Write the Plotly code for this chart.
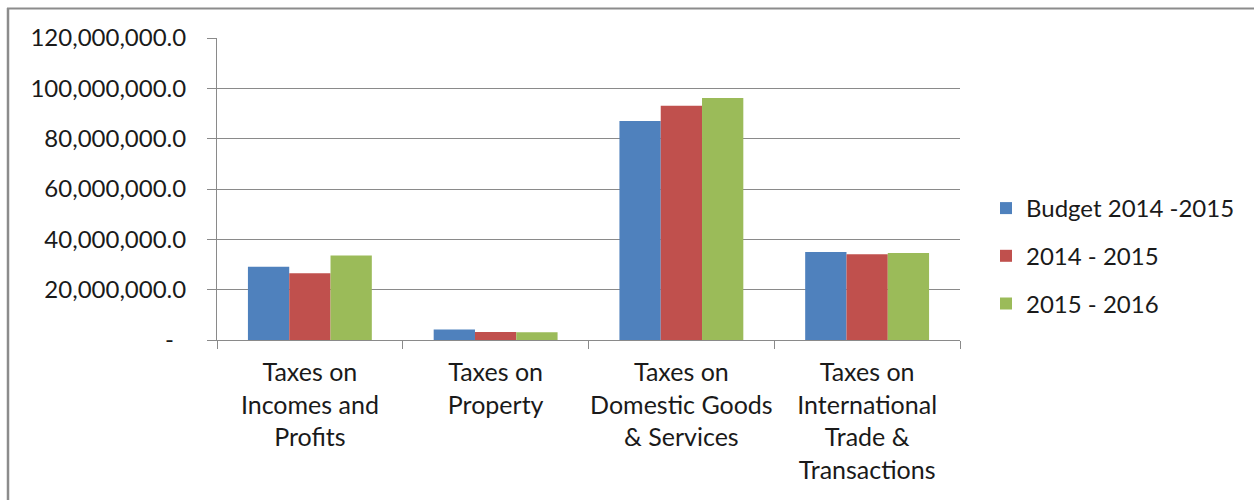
import plotly.graph_objects as go

# Tax revenue by category (Rs.)
categories = [
    "Taxes on<br>Incomes and<br>Profits",
    "Taxes on<br>Property",
    "Taxes on<br>Domestic Goods<br>& Services",
    "Taxes on<br>International<br>Trade &<br>Transactions",
]
budget_2014_15 = [29_100_000, 4_200_000, 87_000_000, 35_000_000]
actual_2014_15 = [26_500_000, 3_200_000, 93_100_000, 34_100_000]
actual_2015_16 = [33_600_000, 3_100_000, 96_200_000, 34_600_000]

series_names = ["Budget 2014 -2015", "2014 - 2015", "2015 - 2016"]
series_values = [budget_2014_15, actual_2014_15, actual_2015_16]
series_colors = ["#4F81BD", "#C0504D", "#9BBB59"]

y_tickvals = [0, 20_000_000, 40_000_000, 60_000_000, 80_000_000, 100_000_000, 120_000_000]
y_ticktext = ["-\u00a0\u00a0"] + [f"{v:,.1f}" for v in y_tickvals[1:]]

W, H = 1254, 500
ML, MR, MT, MB = 217, 294, 38, 160
plot_w = W - ML - MR
plot_h = H - MT - MB

FONT = "Lato, 'Open Sans', sans-serif"
TEXT = "#1a1a1a"
GRID = "#8a8a8a"

fig = go.Figure()
for name, vals, color in zip(series_names, series_values, series_colors):
    fig.add_trace(go.Bar(
        x=categories,
        y=vals,
        name=name,
        legendgroup=name,
        marker=dict(color=color, line=dict(width=0)),
    ))

# outer frame of the chart area (left and top edges)
def px_to_paper_x(px):
    return (px - ML) / plot_w

def px_to_paper_y(py):
    return 1 - (py - MT) / plot_h

fig.add_shape(type="line", xref="paper", yref="paper",
              x0=px_to_paper_x(8), x1=px_to_paper_x(8),
              y0=px_to_paper_y(8), y1=px_to_paper_y(H + 5),
              line=dict(color="#8c8c8c", width=2.5))
fig.add_shape(type="line", xref="paper", yref="paper",
              x0=px_to_paper_x(7), x1=px_to_paper_x(W + 5),
              y0=px_to_paper_y(8.5), y1=px_to_paper_y(8.5),
              line=dict(color="#8c8c8c", width=2))

fig.update_layout(
    width=W, height=H,
    margin=dict(l=ML, r=MR, t=MT, b=MB, autoexpand=False),
    paper_bgcolor="white",
    plot_bgcolor="white",
    barmode="group",
    bargap=0.333,
    bargroupgap=0,
    font=dict(family=FONT, size=24, color=TEXT),
    legend=dict(
        x=px_to_paper_x(986), y=px_to_paper_y(186),
        xanchor="left", yanchor="top",
        font=dict(family=FONT, size=24, color=TEXT),
        tracegroupgap=13.5,
        bgcolor="rgba(0,0,0,0)",
    ),
    showlegend=True,
)

fig.update_xaxes(
    type="category",
    showline=True, linecolor=GRID, linewidth=1,
    ticks="outside", tickson="boundaries", ticklen=8, tickcolor=GRID, tickwidth=1,
    showgrid=False,
    tickfont=dict(family=FONT, size=25, color=TEXT),
    ticklabelstandoff=10,
    tickangle=0,
)
fig.update_yaxes(
    range=[0, 120_000_000],
    tickvals=y_tickvals, ticktext=y_ticktext,
    showline=True, linecolor=GRID, linewidth=1,
    ticks="outside", ticklen=9, tickcolor=GRID, tickwidth=1,
    showgrid=True, gridcolor=GRID, gridwidth=1,
    zeroline=False,
    tickfont=dict(family=FONT, size=24, color=TEXT),
    ticklabelstandoff=16,
)

fig.write_html("out.html")
